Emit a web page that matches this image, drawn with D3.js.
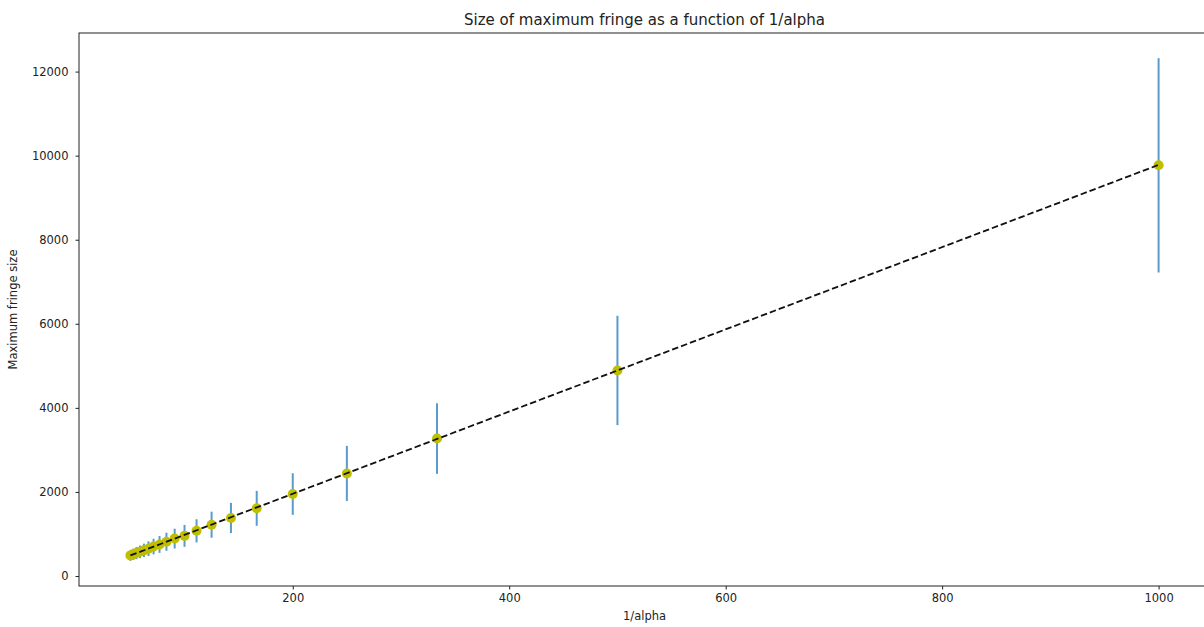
<!DOCTYPE html>
<html>
<head>
<meta charset="utf-8">
<script src="https://cdn.jsdelivr.net/npm/d3@7"></script>
<style>
  body { margin: 0; background: #fff; }
  text { font-family: "DejaVu Sans", sans-serif; fill: #222; }
</style>
</head>
<body>
<div id="chart"></div>
<script>
// 1/alpha values
var invAlpha = [1000, 500, 333.3, 250, 200, 166.7, 142.9, 125, 111.1, 100,
                90.9, 83.3, 76.9, 71.4, 66.7, 62.5, 58.8, 55.6, 52.6, 50];
// mean maximum fringe size
var fringeSize = [9770, 4890, 3270, 2440, 1950, 1610, 1380, 1220, 1075, 955,
                  890, 815, 750, 700, 650, 610, 575, 545, 515, 490];
// error (half length of the bar)
var fringeErr = [2550, 1300, 840, 655, 495, 415, 360, 310, 275, 260,
                 235, 215, 200, 185, 175, 160, 150, 145, 135, 130];
// fitted line end points
var fitX = [50, 1000];
var fitY = [489, 9780];

var xTicks = [200, 400, 600, 800, 1000];
var yTicks = [0, 2000, 4000, 6000, 8000, 10000, 12000];

var svgWidth = 1204;
var svgHeight = 627;

var margin = { top: 33, right: -6, bottom: 41, left: 79 };

var width = svgWidth - margin.left - margin.right;
var height = svgHeight - margin.top - margin.bottom;

var svg = d3.select("#chart")
  .append("svg")
  .attr("width", svgWidth)
  .attr("height", svgHeight);

var chartGroup = svg.append("g")
  .attr("transform", `translate(${margin.left}, ${margin.top})`);

var data = invAlpha.map((x, i) => ({ x: x, y: fringeSize[i], e: fringeErr[i] }));

// matplotlib style 5% margins
var xMin = d3.min(invAlpha), xMax = d3.max(invAlpha);
var xPad = (xMax - xMin) * 0.05;
var yLo = d3.min(data, d => d.y - d.e), yHi = d3.max(data, d => d.y + d.e);
var yPad = (yHi - yLo) * 0.05;

var xScale = d3.scaleLinear()
  .domain([xMin - xPad, xMax + xPad])
  .range([0, width]);

var yScale = d3.scaleLinear()
  .domain([yLo - yPad, yHi + yPad])
  .range([height, 0]);

var bottomAxis = d3.axisBottom(xScale).tickValues(xTicks).tickFormat(d3.format("d"))
  .tickSize(3.5).tickPadding(4);
var leftAxis = d3.axisLeft(yScale).tickValues(yTicks).tickFormat(d3.format("d"))
  .tickSize(3.5).tickPadding(7);

var xAxis = chartGroup.append("g")
  .attr("transform", `translate(0, ${height})`)
  .call(bottomAxis);

var yAxis = chartGroup.append("g")
  .call(leftAxis);

[xAxis, yAxis].forEach(function(ax) {
  ax.select(".domain").remove();
  ax.selectAll("line").attr("stroke", "#222");
  ax.selectAll("text").attr("font-size", "11.5px").attr("fill", "#222")
    .attr("font-family", "DejaVu Sans, sans-serif");
});

// error bars
chartGroup.selectAll(".err")
  .data(data)
  .enter()
  .append("line")
  .attr("class", "err")
  .attr("x1", d => xScale(d.x))
  .attr("x2", d => xScale(d.x))
  .attr("y1", d => yScale(d.y - d.e))
  .attr("y2", d => yScale(d.y + d.e))
  .attr("stroke", "#3d8bc4")
  .attr("stroke-width", 2)
  .attr("opacity", 0.85);

// markers
chartGroup.selectAll(".pt")
  .data(data)
  .enter()
  .append("circle")
  .attr("class", "pt")
  .attr("cx", d => xScale(d.x))
  .attr("cy", d => yScale(d.y))
  .attr("r", 5)
  .attr("fill", "#bfbf00");

// dashed fit line
var line = d3.line()
  .x(d => xScale(d[0]))
  .y(d => yScale(d[1]));

chartGroup.append("path")
  .datum(fitX.map((x, i) => [x, fitY[i]]))
  .attr("d", line)
  .attr("fill", "none")
  .attr("stroke", "#111")
  .attr("stroke-width", 1.8)
  .attr("stroke-dasharray", "6.5,3");

// frame
chartGroup.append("rect")
  .attr("width", width)
  .attr("height", height)
  .attr("fill", "none")
  .attr("stroke", "#222")
  .attr("stroke-width", 1);

// title
chartGroup.append("text")
  .attr("x", width / 2)
  .attr("y", -8)
  .attr("text-anchor", "middle")
  .attr("font-size", "15px")
  .text("Size of maximum fringe as a function of 1/alpha");

// x axis label
chartGroup.append("text")
  .attr("x", width / 2)
  .attr("y", height + 34)
  .attr("text-anchor", "middle")
  .attr("font-size", "11.5px")
  .text("1/alpha");

// y axis label
chartGroup.append("text")
  .attr("transform", "rotate(-90)")
  .attr("x", 0 - height / 2)
  .attr("y", -62)
  .attr("text-anchor", "middle")
  .attr("font-size", "11.5px")
  .text("Maximum fringe size");
</script>
</body>
</html>
